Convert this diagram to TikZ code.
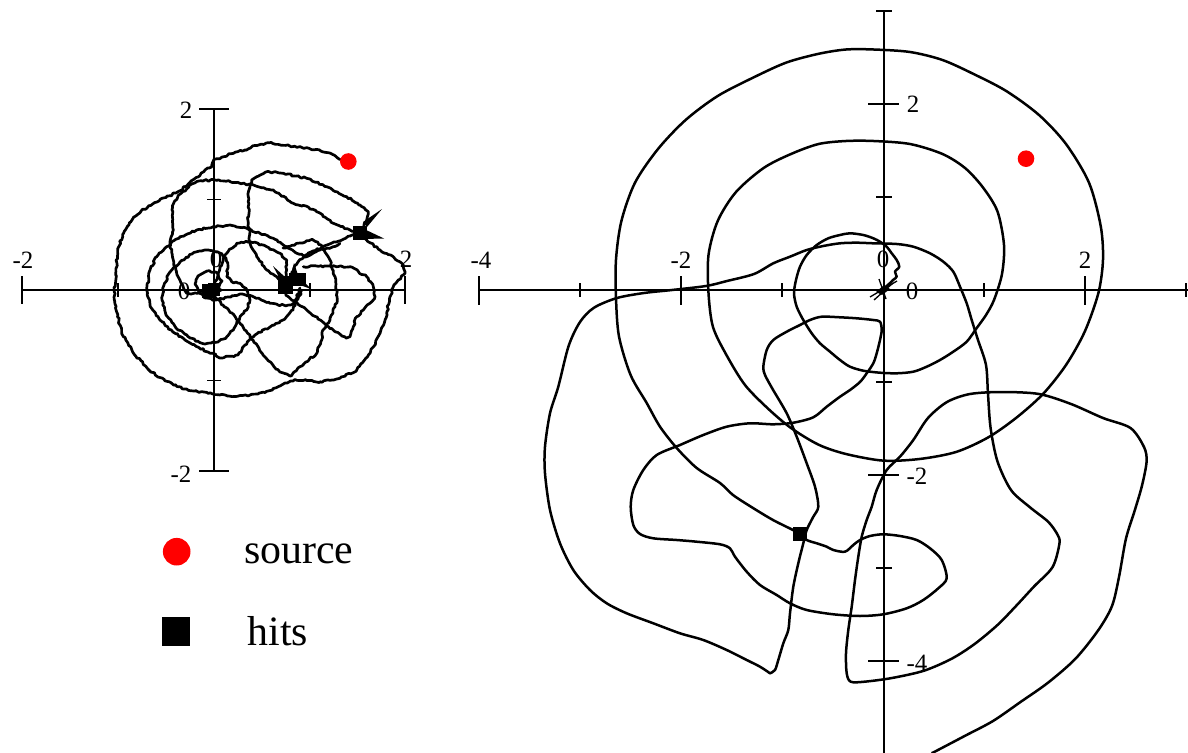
\documentclass[tikz,border=0pt]{standalone}
\usepackage{fontspec}
\setmainfont{Liberation Serif}
\usetikzlibrary{decorations.pathmorphing}
\begin{document}
\pgfmathsetseed{11}
\begin{tikzpicture}[x=1bp,y=-1bp,
  axisline/.style={line width=1.4bp},
  trajL/.style={line width=2.7bp, line join=round, line cap=round, decorate,
     decoration={random steps, segment length=2.4bp, amplitude=0.95bp}},
  trajR/.style={line width=2.5bp, line join=round, line cap=round},
  ticklbl/.style={font=\fontsize{25}{25}\selectfont, inner sep=0pt},
  legendlbl/.style={font=\fontsize{42}{42}\selectfont, inner sep=0pt, anchor=base west},
  srcdot/.style={fill=red},
  hitmark/.style={fill=black}]
\useasboundingbox (0,0) rectangle (1188,753);

%================ LEFT PLOT AXES ================
\draw[axisline] (22,290) -- (405,290);
\draw[axisline] (214,109) -- (214,471);
\foreach \xx in {22,405} \draw[axisline] (\xx,276) -- (\xx,304);
\foreach \xx in {118,310} \draw[axisline] (\xx,283) -- (\xx,297);
\foreach \yy in {109,471} \draw[axisline] (199,\yy) -- (229,\yy);
\foreach \yy in {199.5,380.5} \draw[axisline] (207,\yy) -- (221,\yy);
\node[ticklbl] (lxm2) at (23,260) {-2};
\node[ticklbl] (lxp2) at (406,259) {2};
\node[ticklbl] (lx0) at (216,259) {0};
\node[ticklbl] (ly0) at (184,291) {0};
\node[ticklbl] (lyp2) at (186,110) {2};
\node[ticklbl] (lym2) at (181,474) {-2};

%================ LEFT PLOT TRAJECTORIES ================
\draw[trajL] (340,159.6) -- (332.7,154.5) -- (319.2,149.8) -- (302.4,147.8) -- (285.6,145.4) -- (268.8,142.8) -- (255.4,145.4) -- (245,150) -- (235.2,152.2) -- (221.8,157.2) -- (213.4,160.6) -- (211.7,167) -- (205,170) -- (198,177) -- (188.2,184.1) -- (179.8,190.8) -- (169.7,195.8) -- (154.6,202.6) -- (141.1,211) -- (129.4,222.7) -- (122.6,234.5) -- (117.6,251.3) -- (115.9,271.5) -- (114.2,291.6) -- (116.6,311.8) -- (121.6,331.9) -- (132.7,352.1) -- (147.8,368.9) -- (164.7,380.7) -- (184.8,389.1) -- (208.3,393.4) -- (235.2,396.5) -- (255.4,394.1) -- (272.2,390.1) -- (285,383) -- (295,379.5) -- (306.7,380.5) -- (320,381.7) -- (340,378.3) -- (356.7,370) -- (370,353.3) -- (380,333.3) -- (386.7,313.3) -- (390,296.7) -- (393.3,286.7) -- (398.3,280) -- (405,273.3) -- (403.3,265) -- (393.3,256.7) -- (380,250) -- (366.7,240) -- (359.5,233);
\draw[trajL] (359.5,233) -- (350,230) -- (333.3,223.3) -- (316.7,211.7) -- (306,206) -- (293.3,203.3) -- (273.3,190) -- (255.4,185.8) -- (240,183.3) -- (228.5,180.7) -- (215,180) -- (201.6,180.7) -- (191.5,184.1) -- (186.5,189.1) -- (179.8,194.2) -- (174.7,200.9) -- (172,210) -- (173.3,230) -- (170,243.3) -- (173.3,260) -- (176.7,273.3) -- (181,283) -- (186.7,293.3) -- (195,293) -- (205,291) -- (212,291) -- (215,297) -- (223,305) -- (232,313) -- (242,325) -- (253,340) -- (266,358) -- (280,372) -- (290,376);
\draw[trajL] (284,283) -- (276.7,276.7) -- (266.7,270) -- (256.7,256.7) -- (250,243.3) -- (248.3,223.3) -- (248.3,196.7) -- (251.7,180) -- (256.7,176.7) -- (266.7,171.7) -- (283.3,173.3) -- (306.7,178.3) -- (326.7,186.7) -- (346.7,196.7) -- (360,205) -- (368.3,211.7) -- (366.7,220) -- (361.7,228.3) -- (359.5,233);
\draw[trajL] (359.5,233) -- (350,236) -- (336,242) -- (322,247) -- (308,254) -- (298,262) -- (292,272) -- (290,278);
\draw[trajL] (340,243.3) -- (333.3,246.7) -- (320,250) -- (306.7,256.7) -- (296.7,253.3) -- (286.7,246.7) -- (273.3,238.3) -- (260,233.3) -- (246.7,228.3) -- (230,225) -- (213.3,226.7) -- (196.7,230) -- (180,236.7) -- (166.7,246.7) -- (156.7,256.7) -- (150,270) -- (146.7,290) -- (150,305) -- (160,320) -- (173,332) -- (190,343) -- (208,352) -- (222,358) -- (238,355) -- (245,345) -- (255,335) -- (270,327) -- (283,320) -- (293,310) -- (297,297) -- (300,288);
\draw[trajL] (283,248) -- (300,243) -- (313,240) -- (323,246.7) -- (330,260) -- (335,276.7) -- (336.7,290) -- (337.3,300) -- (335,306.7) -- (330,320) -- (323,330) -- (321.7,340) -- (316.7,353.3) -- (300,366.7) -- (290,376);
\draw[trajL] (303.3,266.7) -- (326.7,266) -- (350,266.7) -- (366.7,276.7) -- (373.3,286.7) -- (375,296.7) -- (370,303.3) -- (363.3,310) -- (356.7,316.7) -- (353.3,326.7) -- (350,336.7) -- (346.7,338.3) -- (336,332) -- (322.6,321.8) -- (309,312) -- (295.7,301.7) -- (285.6,295);
\draw[trajL] (214,285) -- (218,275) -- (220,266.7) -- (226.7,253.3) -- (236.7,243.3) -- (250,241.7) -- (266.7,246.7) -- (280,253.3) -- (286.7,260) -- (286.7,270) -- (285,280);
\draw[trajL] (218,290) -- (222,281) -- (217,273) -- (207,271) -- (198,276) -- (195,284) -- (199,293) -- (206,298) -- (216,300) -- (228,297) -- (240,294) -- (252,296) -- (264,301) -- (278,305) -- (290,305) -- (298,299) -- (302,290);
\draw[trajL] (226.7,276.7) -- (231.7,281.7) -- (240,283.3) -- (246.7,290) -- (250,300) -- (246.7,310) -- (240,316.7) -- (236.7,323.3) -- (233.3,330) -- (226.7,336.7) -- (218,342) -- (205,344) -- (190,338) -- (176,328) -- (166,315) -- (162,300) -- (164,285) -- (170,272) -- (180,262) -- (192,254) -- (205,250) -- (218,252) -- (226,258) -- (228,268) -- (226.7,276.7);

% hits, left plot
\fill[hitmark] (353,226) rectangle (366.5,240);
\fill[hitmark] (364,229) -- (384,238.5) -- (363,239) -- cycle;
\fill[hitmark] (363,222) -- (382,209) -- (367,227) -- cycle;
\fill[hitmark] (278,276) rectangle (292.5,293.5);
\fill[hitmark] (288.5,272.5) rectangle (305.5,285.5);
\fill[hitmark] (281,281) -- (273,266) -- (285,277) -- cycle;
\fill[hitmark] (291,276) -- (294,263) -- (298,275) -- cycle;
\fill[hitmark] (302,280) -- (311,289) -- (300,285) -- cycle;
\fill[hitmark] (201.5,283.5) rectangle (216,297.5);
\fill[hitmark] (208,283) rectangle (219.5,295.5);
\fill[hitmark] (216,286) -- (224,290) -- (216,294) -- cycle;
% source, left plot
\fill[srcdot] (348.3,161.5) circle (8.3);

%================ RIGHT PLOT AXES ================
\draw[axisline] (479,290) -- (1188,290);
\draw[axisline] (884,11) -- (884,753);
\foreach \xx in {479,681,1085} \draw[axisline] (\xx,276) -- (\xx,305);
\foreach \xx in {580,782,984,1186} \draw[axisline] (\xx,283) -- (\xx,297);
\foreach \yy in {104,475,661} \draw[axisline] (868,\yy) -- (899,\yy);
\foreach \yy in {11,197,382,568} \draw[axisline] (876,\yy) -- (892,\yy);
\node[ticklbl] (rxm4) at (481,260) {-4};
\node[ticklbl] (rxm2) at (681,260) {-2};
\node[ticklbl] (rx0) at (883,259) {0};
\node[ticklbl] (rxp2) at (1085,260) {2};
\node[ticklbl] (ryp2) at (913,104) {2};
\node[ticklbl] (ry0) at (912,291) {0};
\node[ticklbl] (rym2) at (917,476) {-2};
\node[ticklbl] (rym4) at (917,663) {-4};

%================ RIGHT PLOT TRAJECTORY ================
\draw[trajR] plot[smooth] coordinates {(882.7,289.3) (889,284) (893,280) (896.7,276.7) (895,271.7) (899.3,266.7) (896.7,260) (891.7,253.3) (886.7,246.7) (880,241.7) (873.3,238.3) (863.3,235) (850,233.3) (840,235) (828.3,238.3) (816.7,245) (806.7,255) (800,266.7) (796,280) (794,293.3) (796.7,306.7) (803.3,320) (811.7,333.3) (820,343.3) (830,351.7) (840,360) (850,366.7) (863.3,370.7) (880,372.7) (896.7,373.3) (913.3,371.7) (926.7,366.7) (940,360) (953.3,351.7) (966.7,341.7) (976,329) (986,315) (994,300) (1002,274) (1004,245) (997.5,211.5) (983,187.5) (965,168) (942.5,154) (910,144) (873.7,141) (846,141) (818.6,144) (791,154) (763.6,168) (736,192) (717.7,221) (708.5,255) (708.5,293) (713,327) (727,356) (745,385) (768,408.6) (791,428) (818.6,444.7) (846,454) (883,460.6) (919.5,459) (956,452) (988,437.5) (1016,418) (1043,394) (1066,365) (1084.7,331.7) (1098.4,293) (1103,259.6) (1100.7,226) (1089,182.7) (1066,144) (1039,115) (1006.7,91.3) (974.6,74.5) (942.5,60) (910,52) (873.7,49.5) (846,49.5) (818.6,53.8) (786.5,62.5) (754.4,77) (717.7,96) (685.6,120) (658,149) (635,182.7) (621.4,221) (616,259.6) (616,298) (619,336.5) (630.6,375) (646.7,403) (660,426.7) (676.7,448) (696.7,468) (720,483) (733,495) (753,508) (773,520) (793,530) (800,534)};
\draw[trajR] plot[smooth] coordinates {(800,534) (806.7,540) (816.7,543.3) (826.7,546.7) (833.3,550) (845,551.7) (853.3,545) (860,540) (870,536) (883.3,534.3) (900,536) (916.7,540) (930,548.3) (941.7,560) (946.7,578.3) (938.3,588.3) (923.3,600) (906.7,608.3) (883.3,614.3) (860,616) (833.3,614.3) (806.7,610) (790,603.3) (776.7,595) (760,585) (746.7,571.7) (735,556.7) (730,548.3) (720,544.3) (696.7,541.7) (676.7,540) (653.3,538.3) (640,534) (633.3,525) (630.7,506.7) (633.3,490) (643.3,470) (656.7,455) (680,445) (703.3,435) (726.7,426.7) (750,423.3) (773.3,424.3) (793.3,422.7) (813.3,417.3) (826.7,406.7) (840,396.7) (850,390) (860,382) (866.7,373.3) (873.3,363.3) (876.7,353.3) (880,340) (881.7,330) (880,321.7) (873.3,320) (856.7,318.3) (840,317.3) (821.7,316.7) (810,320) (800,325) (786.7,331.7) (773.3,340) (766.7,350) (763.3,366.7) (765,375) (772.8,389.4) (786.7,413.3) (796.7,436.7) (806.7,463.3) (815,486.7) (818.3,506.7) (813.3,516.7) (806.7,530) (803.3,543.3) (798.3,563.3) (793.3,586.7) (790,613.3) (788.3,630) (783.3,643.3) (778.3,660) (775,670) (770,673.3)};
\draw[trajR] plot[smooth] coordinates {(770,673.3) (760,666.7) (746.7,660) (726.7,650) (703.3,640) (680,633.3) (653.3,623.3) (626.7,613.3) (606.7,603.3) (590,590) (573.3,570) (560,543.3) (550,510) (545,473.3) (545,446.7) (550,413.3) (558.3,386.7) (568.6,346) (580,322) (594,307.7) (617,298) (644,293) (672,290) (706,286) (727,281) (754,274) (773.3,263.3) (790,256.7) (806.7,250) (823.3,246) (840,243.3) (856.7,242.7) (873.3,243.3) (896.7,244) (913.3,246.7) (930,253.3) (943.3,261.7) (953.3,271.7) (960,286.7) (966.7,303.3) (971.7,320) (978,340) (986,365) (988,394) (990.6,428) (997.5,461.5) (1011,490) (1029.6,507) (1048,521.6) (1057,533.7) (1059.5,543) (1052.6,567) (1034,586.5) (1016,606) (997.5,625) (974.6,644) (951.7,658.7) (924,670.7) (892,678) (864.5,681.7) (850.7,681.7) (846.7,673.3) (846,653.3) (848.3,630) (851.7,606.7) (855,580) (858.3,556.7) (861.7,536.7) (866.7,520) (871.7,506.7) (876.7,490) (886.7,470) (900,456.7) (913.3,440) (928,418) (947,402) (970,394) (1002,392) (1039,394) (1071,404) (1103,418) (1130.5,428) (1144,447) (1146.6,461.5) (1142,485.6) (1135,509.6) (1126,538.5) (1119,577) (1112,606) (1098.4,630) (1075.5,658.7) (1048,682.7) (1020.5,702) (993,721) (965.4,735.6) (938,750) (932,753)};

% hits, right plot
\fill[hitmark] (793,526.5) rectangle (807,541);
\fill[hitmark] (876,292) -- (884,285) -- (890,289) -- (882,295) -- cycle;
\draw[line width=1.3bp] (870,297) -- (897,281);
\draw[line width=1.3bp] (874,300) -- (893,283);
\draw[line width=1.3bp] (879,279) -- (886,299);
% source, right plot
\fill[srcdot] (1026,158.7) circle (8.3);

%================ LEGEND ================
\fill[srcdot] (176.7,551.7) circle (13.8);
\node[legendlbl] (lsrc) at (244,563.5) {source};
\fill[hitmark] (161.7,616.7) rectangle (190,646);
\node[legendlbl] (lhit) at (247.5,645.5) {hits};
\end{tikzpicture}
\end{document}
